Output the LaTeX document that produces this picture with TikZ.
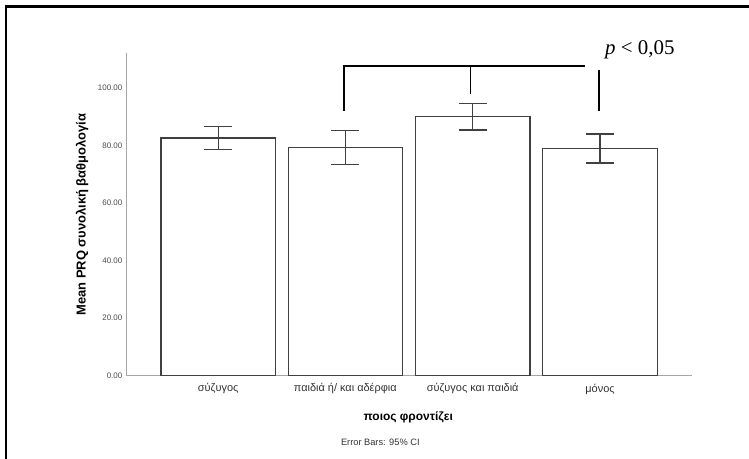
\documentclass[tikz,border=0pt]{standalone}
\usepackage{fontspec}
\setmainfont{Liberation Sans}
\newfontfamily\serifp{Liberation Serif}
\begin{document}
\begin{tikzpicture}[x=1bp,y=-1bp,
  barbox/.style={draw=black!75,line width=1.1bp,fill=white,minimum width=114.5bp,inner sep=0pt,outer sep=0pt,anchor=south},
  errbar/.style={draw=black!75,line width=1.1bp},
  axisline/.style={draw=black!35,line width=1bp},
  bracket/.style={draw=black,line width=1.6bp},
  ticklbl/.style={font=\fontsize{8}{8}\selectfont,text=black!70,anchor=east,inner sep=0pt},
  catlbl/.style={font=\fontsize{11}{11}\selectfont,text=black!80,inner sep=0pt},
  ]
\useasboundingbox (0,0) rectangle (749,459);
\fill[white] (0,0) rectangle (749,459);
% frame (left and top edges visible)
\draw[line width=2.6bp,black] (6,459) -- (6,6.5) -- (749,6.5);
% axes
\draw[axisline] (126,53) -- (126,375.3) -- (692,375.3);
% tick labels
\foreach \v/\lab in {0/0.00,20/20.00,40/40.00,60/60.00,80/80.00,100/100.00}{
  \node[ticklbl] (t\v) at (122.5,{375.3-2.875*\v}) {\lab};
}
% bars
\node[barbox,minimum height=237.3bp] (b1) at (218.2,375.3) {};
\node[barbox,minimum height=228.2bp] (b2) at (345.3,375.3) {};
\node[barbox,minimum height=258.6bp] (b3) at (472.7,375.3) {};
\node[barbox,minimum height=227bp]   (b4) at (600,375.3) {};
% error bars
\foreach \n/\cx/\lo/\hi in {1/218.2/149.9/126.4, 2/345.3/164.5/130.2, 3/472.7/130/103.7, 4/600/163/134}{
  \coordinate (e\n hi) at (\cx,\hi);
  \coordinate (e\n lo) at (\cx,\lo);
  \draw[errbar] (e\n lo) -- (e\n hi);
  \draw[errbar] ([xshift=-14bp]e\n hi) -- ([xshift=14bp]e\n hi);
  \draw[errbar] ([xshift=-14bp]e\n lo) -- ([xshift=14bp]e\n lo);
}
% category labels
\node[catlbl] (c1) at (218.2,389) {σύζυγος};
\node[catlbl] (c2) at (345.3,389) {παιδιά ή/ και αδέρφια};
\node[catlbl] (c3) at (472.7,389) {σύζυγος και παιδιά};
\node[catlbl] (c4) at (600,389) {μόνος};
% axis titles
\node[font=\fontsize{12}{12}\selectfont\bfseries,inner sep=0pt] (xt) at (408.3,417.5) {ποιος φροντίζει};
\node[font=\fontsize{13}{13}\selectfont\bfseries,rotate=90,inner sep=0pt] (yt) at (82,214.5) {Mean PRQ συνολική βαθμολογία};
\node[font=\fontsize{9.3}{9.3}\selectfont,text=black!80,inner sep=0pt] (eb) at (380.3,442.3) {Error Bars: 95\% CI};
% significance bracket
\coordinate (k1) at (343.7,110.7);
\coordinate (k1t) at (343.7,66);
\coordinate (k3) at (470.3,94.3);
\coordinate (k3t) at (470.3,66);
\coordinate (kend) at (585,66);
\coordinate (k4t) at (598.7,70);
\coordinate (k4) at (598.7,111);
\draw[bracket] (k1) -- (k1t) -- (kend);
\draw[bracket] (k3t) -- (k3);
\draw[bracket] (k4t) -- (k4);
\node[font=\serifp\fontsize{21}{21}\selectfont,anchor=base west,inner sep=0pt] (pv) at (605,55) {\textit{p} < 0,05};
\end{tikzpicture}
\end{document}
